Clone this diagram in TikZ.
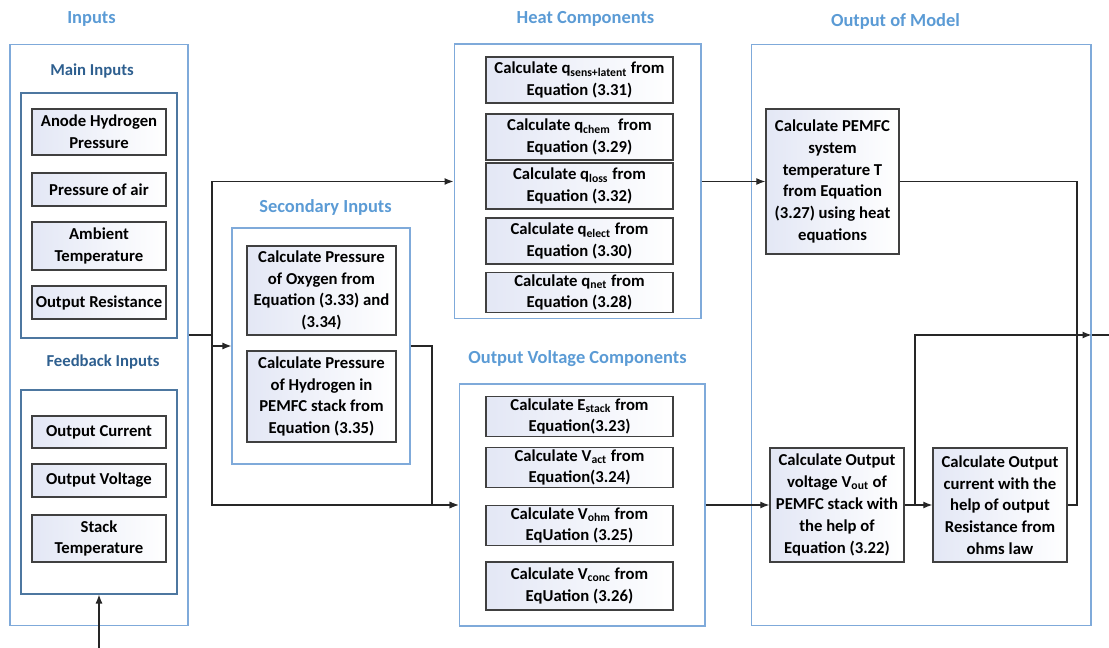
\documentclass[tikz,border=0pt]{standalone}
\usepackage{fontspec}
\setmainfont{Carlito}
\usepackage{tikz}
\usetikzlibrary{arrows.meta}

\definecolor{titleblue}{HTML}{5B9BD5}
\definecolor{subblue}{HTML}{2E5F8F}
\definecolor{frameblue}{HTML}{7FAADA}
\definecolor{boxfill}{HTML}{E3E7F5}

\begin{document}
\begin{tikzpicture}[x=0.02cm,y=-0.02cm,
    font=\fontsize{9.5}{12.4}\selectfont\bfseries,
    group/.style={draw=frameblue,line width=0.6pt,inner sep=0pt},
    subgroup/.style={draw=subblue!85,line width=0.6pt,inner sep=0pt},
    grouptitle/.style={text=titleblue,font=\fontsize{10.5}{13}\selectfont\bfseries},
    subtitle/.style={text=subblue,font=\fontsize{9.5}{12}\selectfont\bfseries},
    calcbox/.style={draw=black!75,line width=0.8pt,left color=boxfill,right color=white,
        align=center,inner sep=1pt,minimum width=2.68cm},
    wire/.style={line width=0.7pt,black!85},
    link/.style={wire,-{Latex[length=1.8mm,width=1.4mm]}}]
\useasboundingbox (0,0) rectangle (1109,648);

\node[grouptitle] (tin) at (91.5,19) {Inputs};
\node[grouptitle] (tsec) at (325.5,207) {Secondary Inputs};
\node[grouptitle] (theat) at (585.5,19) {Heat Components};
\node[grouptitle] (tvolt) at (577.5,359) {Output Voltage Components};
\node[grouptitle] (tmodel) at (895.5,21) {Output of Model};
\node[subtitle] (tmain) at (92,71) {Main Inputs};
\node[subtitle] (tfeed) at (103,362) {Feedback Inputs};

\node[group,minimum width=3.56cm,minimum height=11.64cm] (inputs) at (99,335) {};
\node[subgroup,minimum width=3.12cm,minimum height=4.9cm] (mainin) at (99,215.5) {};
\node[subgroup,minimum width=3.12cm,minimum height=4.08cm] (feedin) at (99,492) {};
\node[group,minimum width=3.56cm,minimum height=4.72cm] (second) at (321,346) {};
\node[group,minimum width=4.94cm,minimum height=5.5cm] (heat) at (577.5,181.5) {};
\node[group,minimum width=4.92cm,minimum height=4.84cm] (volt) at (582,505) {};
\node[group,minimum width=6.8cm,minimum height=11.64cm] (model) at (921,335) {};

\node[calcbox,minimum height=0.92cm] (anode) at (99,132) {Anode Hydrogen\\Pressure};
\node[calcbox,minimum height=0.66cm] (air) at (99,189.5) {Pressure of air};
\node[calcbox,minimum height=0.96cm] (ambient) at (99,246) {Ambient\\Temperature};
\node[calcbox,minimum height=0.66cm] (resist) at (99,302.5) {Output Resistance};
\node[calcbox,minimum height=0.64cm] (current) at (99,432) {Output Current};
\node[calcbox,minimum height=0.66cm] (voltage) at (99,480.5) {Output Voltage};
\node[calcbox,minimum height=0.94cm] (stacktemp) at (99,538.5) {Stack\\Temperature};

\node[calcbox,minimum width=2.98cm,minimum height=1.78cm] (oxygen) at (321.5,290.5)
    {Calculate Pressure\\of Oxygen from\\Equation (3.33) and\\(3.34)};
\node[calcbox,minimum width=2.98cm,minimum height=1.82cm] (hydrogen) at (321.5,396.5)
    {Calculate Pressure\\of Hydrogen in\\PEMFC stack from\\Equation (3.35)};

\node[calcbox,minimum width=3.74cm,minimum height=0.92cm] (qsens) at (579.5,80)
    {Calculate q\textsubscript{sens+latent} from\\Equation (3.31)};
\node[calcbox,minimum width=3.74cm,minimum height=0.92cm] (qchem) at (579.5,137)
    {Calculate q\textsubscript{chem}\ \ from\\Equation (3.29)};
\node[calcbox,minimum width=3.74cm,minimum height=0.92cm] (qloss) at (579.5,186)
    {Calculate q\textsubscript{loss} from\\Equation (3.32)};
\node[calcbox,minimum width=3.74cm,minimum height=0.92cm] (qelect) at (579.5,241)
    {Calculate q\textsubscript{elect} from\\Equation (3.30)};
\node[calcbox,minimum width=3.74cm,minimum height=0.78cm] (qnet) at (579.5,292.5)
    {Calculate q\textsubscript{net} from\\Equation (3.28)};

\node[calcbox,minimum width=3.74cm,minimum height=0.78cm] (estack) at (579.5,416.5)
    {Calculate E\textsubscript{stack} from\\Equation(3.23)};
\node[calcbox,minimum width=3.74cm,minimum height=0.78cm] (vact) at (579.5,467.5)
    {Calculate V\textsubscript{act} from\\Equation(3.24)};
\node[calcbox,minimum width=3.74cm,minimum height=0.78cm] (vohm) at (579.5,525.5)
    {Calculate V\textsubscript{ohm} from\\EqUation (3.25)};
\node[calcbox,minimum width=3.74cm,minimum height=0.96cm] (vconc) at (579.5,586)
    {Calculate V\textsubscript{conc} from\\EqUation (3.26)};

\node[calcbox,minimum width=2.66cm,minimum height=2.9cm] (temp) at (832.5,181.5)
    {Calculate PEMFC\\system\\temperature T\\from Equation\\(3.27) using heat\\equations};
\node[calcbox,minimum height=2.28cm] (vout) at (837,505)
    {Calculate Output\\voltage V\textsubscript{out} of\\PEMFC stack with\\the help of\\Equation (3.22)};
\node[calcbox,minimum height=2.28cm] (iout) at (1000,505)
    {Calculate Output\\current with the\\help of output\\Resistance from\\ohms law};

\coordinate (split) at (212,335);
\coordinate (merge) at (432,346);
\coordinate (tap) at (915,505);
\coordinate (tempdown) at (1077,181.5);
\coordinate (fbout) at (1109,335);
\coordinate (fbin) at (99,648);

\draw[wire] (inputs.east) -- (split);
\draw[link] (split) |- (heat.west);
\draw[link] (split) |- (second.west);
\draw[link] (split) |- (volt.west);
\draw[link] (second.east) -- (merge) |- (volt.west);
\draw[link] (heat.east) -- (temp.west);
\draw[link] (volt.east) -- (vout.west);
\draw[link] (vout.east) -- (iout.west);
\draw[link] (tap) |- (model.east);
\draw[wire] (model.east) -- (fbout);
\draw[wire] (temp.east) -- (tempdown) |- (iout.east);
\draw[link] (fbin) -- (feedin.south);
\end{tikzpicture}
\end{document}
